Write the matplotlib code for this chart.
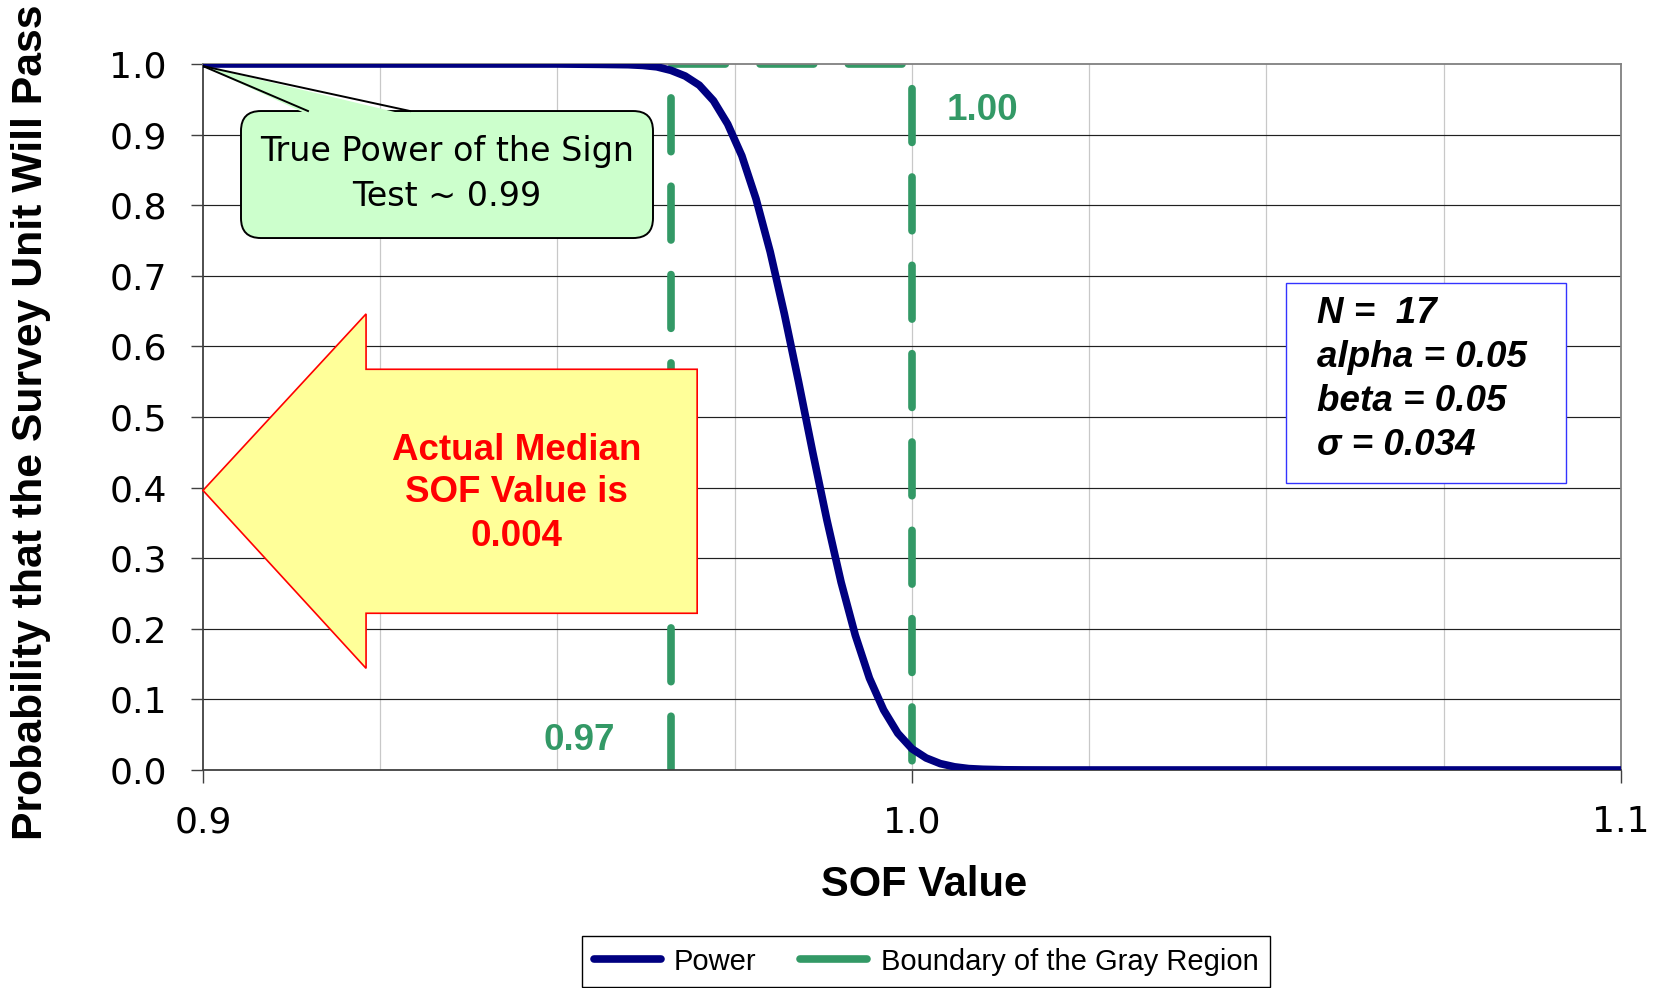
import matplotlib
matplotlib.use("Agg")
import matplotlib.pyplot as plt
from matplotlib.patches import Polygon, FancyBboxPatch, Rectangle
from matplotlib.lines import Line2D

# ---------------- data ----------------
sof = [0.900, 0.940, 0.950, 0.956, 0.960, 0.962, 0.964, 0.966, 0.968, 0.970,
       0.972, 0.974, 0.976, 0.978, 0.980, 0.982, 0.984, 0.986, 0.988, 0.990,
       0.992, 0.994, 0.996, 0.998, 1.000, 1.002, 1.004, 1.006, 1.008, 1.010,
       1.013, 1.016, 1.020, 1.050, 1.100]
power = [1.000, 1.000, 1.000, 0.9995, 0.999, 0.998, 0.996, 0.991, 0.983, 0.970,
         0.948, 0.915, 0.870, 0.809, 0.734, 0.646, 0.550, 0.450, 0.354, 0.266,
         0.191, 0.130, 0.085, 0.052, 0.030, 0.017, 0.009, 0.0045, 0.002, 0.001,
         0.0003, 0.0001, 0.000, 0.000, 0.000]

boundary_x = [0.966, 0.966, 1.000, 1.000]
boundary_y = [0.0, 1.0, 1.0, 0.0]
lbgr_label = "0.97"
dcgl_label = "1.00"

x_ticks = [0.9, 1.0, 1.1]
x_tick_labels = ["0.9", "1.0", "1.1"]
x_grid = [0.925, 0.95, 0.975, 1.0, 1.025, 1.05, 1.075]
y_ticks = [0.0, 0.1, 0.2, 0.3, 0.4, 0.5, 0.6, 0.7, 0.8, 0.9, 1.0]
y_tick_labels = ["0.0", "0.1", "0.2", "0.3", "0.4", "0.5", "0.6", "0.7", "0.8", "0.9", "1.0"]

x_label = "SOF Value"
y_label = "Probability that the Survey Unit Will Pass"
series_names = ["Power", "Boundary of the Gray Region"]
callout_lines = ["True Power of the Sign", "Test ~ 0.99"]
arrow_lines = ["Actual Median", "SOF Value is", "0.004"]
param_lines = ["N =  17", "alpha = 0.05", "beta = 0.05", "\u03c3 = 0.034"]

NAVY = "#000080"
GREEN = "#339966"

plt.rcParams["lines.scale_dashes"] = False

fig = plt.figure(figsize=(16.56, 9.88), dpi=100)
ax = fig.add_axes([0.12258, 0.22065, 0.85628, 0.71457])
ax.set_xlim(0.9, 1.1)
ax.set_ylim(0.0, 1.0)

# grid
for gx in x_grid:
    ax.axvline(gx, color="#c8c8c8", lw=0.9, zorder=0.5)
for gy in y_ticks[1:-1]:
    ax.axhline(gy, color="#202020", lw=0.85, zorder=0.6)

# series
ax.plot(sof, power, color=NAVY, lw=5.5, solid_capstyle="round",
        solid_joinstyle="round", zorder=3)
ax.plot(boundary_x, boundary_y, color=GREEN, lw=5.5, dashes=(38.7, 24.9),
        dash_capstyle="round", zorder=2.5)

# boundary labels
ax.text(0.95307, 0.0283, lbgr_label, color=GREEN, fontsize=26.5,
        fontweight="bold", family="Liberation Sans", ha="center", va="baseline")
ax.text(1.00992, 0.9207, dcgl_label, color=GREEN, fontsize=26.5,
        fontweight="bold", family="Liberation Sans", ha="center", va="baseline")

# spines / ticks
for s in ["left", "bottom"]:
    ax.spines[s].set_color("#404040")
    ax.spines[s].set_linewidth(1.3)
for s in ["top", "right"]:
    ax.spines[s].set_color("#808080")
    ax.spines[s].set_linewidth(1.3)

ax.set_xticks(x_ticks)
ax.set_xticklabels(x_tick_labels)
ax.set_yticks(y_ticks)
ax.set_yticklabels(y_tick_labels)
ax.tick_params(axis="both", direction="out", length=9, width=1, color="#404040",
               labelsize=26, labelcolor="black")
ax.tick_params(axis="x", pad=16.5)
ax.tick_params(axis="y", pad=17)
for lab in ax.get_xticklabels() + ax.get_yticklabels():
    lab.set_family("DejaVu Sans")

# axis labels
fig.text(31 / 1656, 1 - 422 / 988, y_label, rotation=90, ha="center", va="center",
         fontsize=30.8, fontweight="bold", family="Liberation Sans")
fig.text(924 / 1656, 1 - 885 / 988, x_label, ha="center", va="center",
         fontsize=30, fontweight="bold", family="Liberation Sans")

# ---------------- callout (rounded box with wedge) ----------------
box = FancyBboxPatch((0.90536, 0.7535), 0.05811, 0.1799,
                     boxstyle="round,pad=0,rounding_size=0.0028",
                     mutation_aspect=10.04, facecolor="#CCFFCC",
                     edgecolor="black", lw=1.4, zorder=6)
ax.add_patch(box)
tip = (0.9, 0.997)
b1 = (0.91481, 0.9334)
b2 = (0.92920, 0.9334)
wedge = Polygon([tip, (b1[0] + 0.0002, b1[1] - 0.006), (b2[0] - 0.0002, b2[1] - 0.006)],
                closed=True, facecolor="#CCFFCC", edgecolor="none", zorder=6.5)
ax.add_patch(wedge)
ax.add_line(Line2D([tip[0], b1[0]], [tip[1], b1[1]], color="black", lw=1.4, zorder=6.6))
ax.add_line(Line2D([tip[0], b2[0]], [tip[1], b2[1]], color="black", lw=1.4, zorder=6.6))
for txt, yb in zip(callout_lines, [0.863, 0.7993]):
    ax.text(0.93441, yb, txt, ha="center", va="baseline", fontsize=24,
            family="DejaVu Sans", color="black", zorder=7)

# ---------------- yellow arrow ----------------
arrow = Polygon([(0.9, 0.396), (0.9230, 0.646), (0.9230, 0.5676), (0.9697, 0.5676),
                 (0.9697, 0.222), (0.9230, 0.222), (0.9230, 0.144)],
                closed=True, facecolor="#FFFF99", edgecolor="#FF0000", lw=1.2,
                zorder=6, clip_on=False)
ax.add_patch(arrow)
for txt, yb in zip(arrow_lines, [0.4391, 0.3792, 0.3177]):
    ax.text(0.94424, yb, txt, ha="center", va="baseline", fontsize=26.5,
            fontweight="bold", family="Liberation Sans", color="#FF0000", zorder=7)

# ---------------- parameter box ----------------
pbox = Rectangle((1.05275, 0.4065), 1.09224 - 1.05275, 0.6898 - 0.4065,
                 facecolor="white", edgecolor="#3333FF", lw=1.0, zorder=6)
ax.add_patch(pbox)
for txt, yb in zip(param_lines, [0.6331, 0.5708, 0.5085, 0.4462]):
    ax.text(1.05715, yb, txt, ha="left", va="baseline", fontsize=26.5,
            fontweight="bold", fontstyle="italic", family="Liberation Sans",
            color="black", zorder=7)

# ---------------- legend ----------------
handles = [Line2D([], [], color=NAVY, lw=5.5, solid_capstyle="round"),
           Line2D([], [], color=GREEN, lw=5.5, solid_capstyle="round")]
leg = fig.legend(handles, series_names, loc="upper center",
                 bbox_to_anchor=(926 / 1656, 1 - 936 / 988), ncol=2,
                 frameon=True, fancybox=False, edgecolor="black", framealpha=1,
                 borderpad=0.4, borderaxespad=0, handlelength=2.3,
                 handletextpad=0.45, columnspacing=1.5,
                 prop={"family": "Liberation Sans", "size": 21})
leg.get_frame().set_linewidth(1.0)

fig.savefig("out.png", dpi=100)
